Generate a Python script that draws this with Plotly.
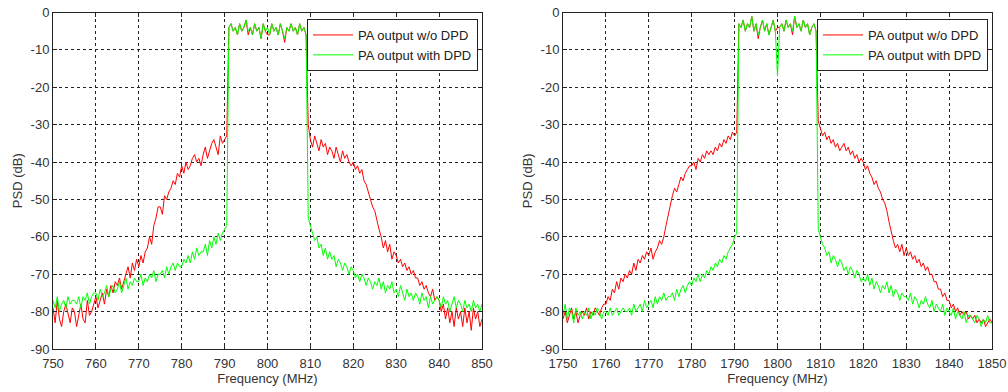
import numpy as np
import plotly.graph_objects as go

# Frequency sampling grids (MHz), 0.5 MHz step
freq_left = np.arange(750.0, 850.01, 0.5)
freq_right = np.arange(1750.0, 1850.01, 0.5)

# ---- Left panel (800 MHz band), PSD in dB ----
left_wo_dpd = [
    -79, -83, -77, -82, -84, -80, -78, -81, -83, -79,
    -80, -84, -81, -78, -82, -83, -77, -81, -80, -78,
    -76, -79, -77, -75, -78, -74, -76, -73, -75, -72,
    -73, -71, -74, -72, -70, -68, -71, -67, -69, -66,
    -68, -65, -67, -64, -63, -60, -62, -57, -55, -52,
    -52, -54, -49, -50, -48, -47, -45, -46, -43, -44,
    -41, -43, -40, -42, -41, -39, -38, -40, -39, -41,
    -38, -36, -39, -37, -35, -34, -36, -38, -33, -35,
    -34, -33,
    -4, -3, -5, -4, -6, -3, -5, -4, -2, -6,
    -4, -6, -3, -5, -4, -7, -3, -5, -6, -6,
    -3, -5, -4, -6, -3, -5, -8, -4, -5, -3,
    -5, -4, -6, -3, -5, -4, -6,
    -30,
    -34, -36, -33, -35, -37, -34, -36, -35, -38, -36,
    -37, -39, -36, -38, -40, -37, -39, -38, -40, -41,
    -40, -42, -41, -43, -42, -45, -46, -48, -50, -52,
    -53, -56, -58, -60, -63, -61, -64, -62, -66, -64,
    -65, -67, -66, -68, -67, -69, -68, -70, -69, -71,
    -71, -73, -72, -74, -73, -75, -76, -74, -77, -76,
    -77, -80, -78, -82, -79, -83, -80, -84, -79, -82,
    -80, -84, -79, -83, -80, -85, -79, -82, -80, -84,
    -82,
]
left_with_dpd = [
    -77, -79, -76, -80, -78, -77, -79, -76, -78, -77,
    -77, -78, -76, -79, -76, -77, -75, -78, -76, -75,
    -75, -77, -74, -76, -75, -73, -76, -74, -73, -75,
    -74, -72, -75, -73, -71, -74, -72, -73, -71, -72,
    -72, -70, -73, -71, -72, -70, -71, -69, -72, -70,
    -70, -69, -71, -68, -70, -68, -67, -69, -67, -68,
    -68, -66, -67, -65, -67, -64, -66, -63, -65, -64,
    -64, -62, -65, -61, -63, -60, -62, -59, -61, -59,
    -58, -57,
    -4, -3, -5, -4, -6, -3, -5, -4, -2, -5,
    -4, -6, -3, -5, -4, -7, -3, -5, -4, -6,
    -3, -5, -4, -6, -3, -5, -7, -4, -5, -3,
    -5, -4, -6, -3, -5, -4, -6,
    -55,
    -57, -59, -61, -60, -63, -62, -65, -63, -66, -64,
    -66, -65, -68, -66, -67, -69, -67, -68, -70, -68,
    -69, -71, -70, -72, -70, -71, -73, -71, -72, -74,
    -72, -73, -71, -74, -72, -75, -73, -74, -72, -75,
    -74, -76, -73, -75, -77, -74, -76, -75, -77, -75,
    -76, -78, -75, -77, -76, -79, -76, -78, -77, -76,
    -77, -79, -76, -78, -77, -80, -78, -76, -79, -77,
    -78, -80, -77, -79, -78, -80, -77, -79, -78, -80,
    -78,
]

# ---- Right panel (1800 MHz band), PSD in dB ----
right_wo_dpd = [
    -82, -80, -83, -81, -79, -82, -80, -83, -81, -80,
    -81, -79, -82, -80, -81, -79, -80, -81, -79, -78,
    -78, -76, -77, -74, -75, -72, -74, -71, -72, -70,
    -71, -69, -70, -67, -69, -66, -67, -65, -66, -64,
    -65, -63, -66, -64, -63, -61, -62, -60, -57, -54,
    -51, -49, -47, -48, -46, -44, -45, -43, -42, -41,
    -41, -40, -42, -39, -40, -38, -39, -37, -38, -37,
    -38, -36, -37, -35, -36, -34, -35, -33, -34, -32,
    -33, -32,
    -3, -4, -2, -5, -3, -4, -1, -5, -3, -7,
    -4, -2, -5, -3, -6, -4, -2, -5, -4, -4,
    -3, -5, -2, -4, -3, -6, -1, -4, -3, -5,
    -2, -4, -3, -6, -4, -3, -5,
    -29,
    -31, -33, -32, -34, -33, -35, -34, -36, -35, -37,
    -36, -35, -37, -36, -38, -37, -39, -38, -40, -39,
    -40, -42, -41, -43, -44, -46, -45, -47, -48, -50,
    -51, -53, -56, -59, -61, -63, -62, -64, -62, -65,
    -63, -65, -64, -66, -65, -67, -66, -68, -67, -69,
    -68, -70, -70, -72, -72, -74, -74, -76, -75, -77,
    -77, -79, -78, -80, -79, -81, -80, -81, -80, -82,
    -81, -82, -81, -83, -82, -83, -82, -84, -83, -82,
    -83,
]
right_with_dpd = [
    -81, -78, -82, -79, -80, -83, -79, -81, -80, -82,
    -80, -81, -79, -82, -80, -81, -79, -80, -82, -80,
    -80, -81, -79, -81, -80, -79, -81, -80, -79, -80,
    -80, -79, -81, -78, -80, -79, -78, -80, -77, -79,
    -78, -77, -79, -76, -78, -76, -77, -75, -77, -76,
    -76, -75, -77, -74, -76, -74, -73, -75, -73, -72,
    -73, -71, -72, -70, -72, -70, -71, -69, -70, -68,
    -69, -67, -68, -66, -67, -65, -66, -64, -63, -62,
    -60, -59,
    -3, -4, -2, -5, -3, -4, -1, -5, -3, -6,
    -4, -2, -5, -3, -6, -4, -2, -5, -17, -4,
    -3, -5, -2, -4, -3, -5, -1, -4, -3, -5,
    -2, -4, -3, -6, -4, -3, -5,
    -58,
    -60, -62, -63, -65, -64, -67, -65, -66, -68, -66,
    -67, -69, -68, -70, -68, -69, -71, -69, -70, -72,
    -71, -72, -70, -73, -71, -74, -72, -73, -75, -73,
    -74, -72, -75, -73, -76, -74, -75, -77, -75, -76,
    -76, -77, -75, -78, -76, -77, -79, -77, -78, -76,
    -78, -79, -77, -80, -78, -79, -80, -78, -81, -79,
    -80, -81, -79, -82, -80, -81, -82, -80, -83, -81,
    -81, -82, -83, -81, -82, -84, -82, -83, -81, -83,
    -83,
]

series_names = ["PA output w/o DPD", "PA output with DPD"]
series_colors = ["#ff0000", "#00ff00"]
y_ticks = [0, -10, -20, -30, -40, -50, -60, -70, -80, -90]
x_ticks_left = list(range(750, 851, 10))
x_ticks_right = list(range(1750, 1851, 10))

fig = go.Figure()

panels = [
    ("x", "y", "legend", freq_left, [left_wo_dpd, left_with_dpd]),
    ("x2", "y2", "legend2", freq_right, [right_wo_dpd, right_with_dpd]),
]
for xa, ya, lg, f, ys in panels:
    for name, color, vals in zip(series_names, series_colors, ys):
        fig.add_trace(go.Scatter(
            x=f, y=vals, mode="lines", name=name,
            line=dict(color=color, width=1),
            xaxis=xa, yaxis=ya, legend=lg,
        ))

tick_font = dict(family="Liberation Sans, Arial, sans-serif", size=13, color="#333333")
title_font = dict(family="Liberation Sans, Arial, sans-serif", size=13, color="#333333")

ydom = [(392 - 349) / 392, (392 - 12.5) / 392]

def xaxis_cfg(domain, rng, ticks, anchor):
    return dict(
        domain=domain, range=rng, tickvals=ticks, ticktext=[str(t) for t in ticks],
        anchor=anchor, showline=True, linecolor="#222222", linewidth=1, mirror="allticks",
        ticks="inside", ticklen=4, tickcolor="#222222",
        showgrid=True, gridcolor="#222222", gridwidth=1, griddash="3px,3px",
        zeroline=False, tickfont=tick_font, ticklabelstandoff=2,
        title=dict(text="Frequency (MHz)", font=title_font, standoff=1),
        automargin=False,
    )

def yaxis_cfg(anchor):
    return dict(
        domain=ydom, range=[-90, 0], tickvals=y_ticks, ticktext=[str(t) for t in y_ticks],
        anchor=anchor, showline=True, linecolor="#222222", linewidth=1, mirror="allticks",
        ticks="inside", ticklen=4, tickcolor="#222222",
        showgrid=True, gridcolor="#222222", gridwidth=1, griddash="3px,3px",
        zeroline=False, tickfont=tick_font,
        title=dict(text="PSD (dB)", font=title_font, standoff=5),
        automargin=False,
    )

legend_common = dict(
    bgcolor="white", bordercolor="#222222", borderwidth=1,
    font=dict(family="Liberation Sans, Arial, sans-serif", size=13, color="#222222"),
    xanchor="right", yanchor="top", tracegroupgap=0,
    itemwidth=40,
)

fig.update_layout(
    width=1008, height=392,
    margin=dict(l=0, r=0, t=0, b=0),
    paper_bgcolor="white", plot_bgcolor="white",
    xaxis=xaxis_cfg([53 / 1008, 482 / 1008], [750, 850], x_ticks_left, "y"),
    yaxis=yaxis_cfg("x"),
    xaxis2=xaxis_cfg([563 / 1008, 992 / 1008], [1750, 1850], x_ticks_right, "y2"),
    yaxis2=yaxis_cfg("x2"),
    legend=dict(x=478 / 1008, y=(392 - 19) / 392, **legend_common),
    legend2=dict(x=988 / 1008, y=(392 - 19) / 392, **legend_common),
    showlegend=True,
)

fig.write_html("out.html")
